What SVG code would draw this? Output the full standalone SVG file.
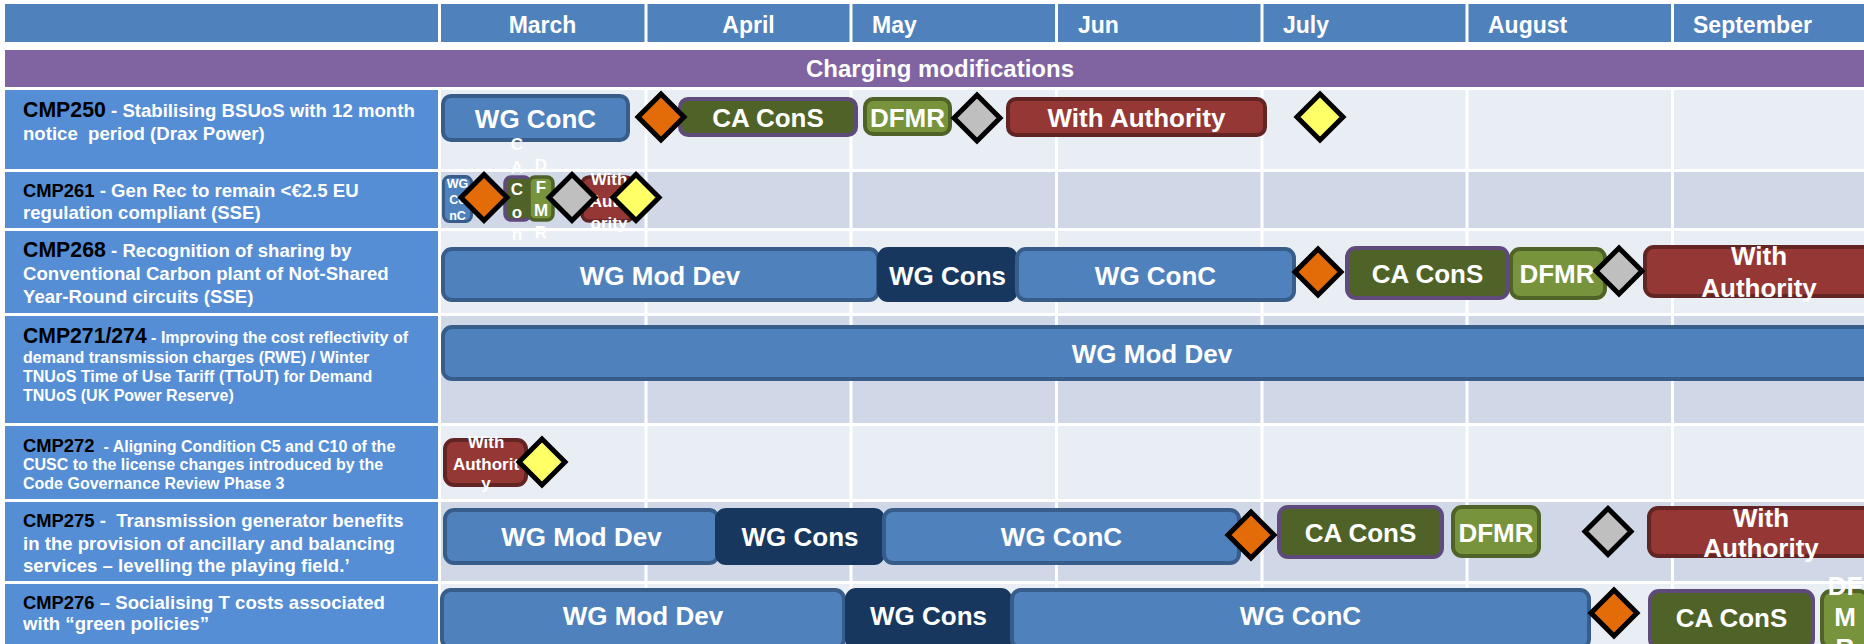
<svg xmlns="http://www.w3.org/2000/svg" xmlns:xlink="http://www.w3.org/1999/xlink" width="1864" height="644" viewBox="0 0 1864 644">
<style>
text{font-family:"Liberation Sans",Arial,Helvetica,sans-serif;font-weight:bold}
.hd{fill:#4F81BD}
.lc{fill:#558ED5}
.rl{fill:#E9EDF4}
.rd{fill:#D0D8E8}
.vl{stroke:#FFFFFF;stroke-width:3}
.mt{font-size:23px;fill:#FFFFFF}
.lt{font-size:18.6px;fill:#FFFFFF}
.ls{font-size:16px;fill:#FFFFFF}
.id{fill:#000000}
.bar{stroke-width:4}
.bl{fill:#4F81BD;stroke:#385D8A}
.nv{fill:#17375E;stroke:#17375E}
.ca{fill:#4F6228;stroke:#604A7B}
.df{fill:#77933C;stroke:#4F6228}
.wa{fill:#953735;stroke:#632523}
.bt{font-size:26px;fill:#FFFFFF;text-anchor:middle}
.st{font-size:17px;fill:#FFFFFF;text-anchor:middle}
.tt{font-size:12.5px;fill:#FFFFFF;text-anchor:middle}
.dm{stroke:#000000;stroke-width:5;stroke-linejoin:miter}
.or{fill:#E36C09}
.gy{fill:#BFBFBF}
.ye{fill:#FFFF66}
</style>
<defs>
<polygon id="dia" points="0,-23 23,0 0,23 -23,0"/>
</defs>
<rect x="0" y="0" width="1864" height="644" fill="#FFFFFF"/>

<g id="header">
<rect class="hd" x="5" y="4" width="1859" height="38"/>
<text class="mt" x="542.5" y="33" text-anchor="middle">March</text>
<text class="mt" x="748.5" y="33" text-anchor="middle">April</text>
<text class="mt" x="872" y="33">May</text>
<text class="mt" x="1078" y="33">Jun</text>
<text class="mt" x="1283" y="33">July</text>
<text class="mt" x="1488" y="33">August</text>
<text class="mt" x="1693" y="33">September</text>
</g>

<g id="section-title">
<rect x="5" y="50" width="1859" height="37" fill="#8064A2"/>
<text x="940" y="77" font-size="24" fill="#FFFFFF" text-anchor="middle">Charging modifications</text>
</g>

<g id="grid">
<rect class="lc" x="5" y="90" width="433" height="79"/>
<rect class="rl" x="441" y="90" width="1423" height="79"/>
<rect class="lc" x="5" y="172" width="433" height="56"/>
<rect class="rd" x="441" y="172" width="1423" height="56"/>
<rect class="lc" x="5" y="231" width="433" height="82"/>
<rect class="rl" x="441" y="231" width="1423" height="82"/>
<rect class="lc" x="5" y="316" width="433" height="107"/>
<rect class="rd" x="441" y="316" width="1423" height="107"/>
<rect class="lc" x="5" y="426" width="433" height="73"/>
<rect class="rl" x="441" y="426" width="1423" height="73"/>
<rect class="lc" x="5" y="502" width="433" height="79"/>
<rect class="rd" x="441" y="502" width="1423" height="79"/>
<rect class="lc" x="5" y="584" width="433" height="60"/>
<rect class="rl" x="441" y="584" width="1423" height="60"/>
<line class="vl" x1="439.5" y1="4" x2="439.5" y2="42"/>
<line class="vl" x1="646" y1="4" x2="646" y2="42"/>
<line class="vl" x1="851" y1="4" x2="851" y2="42"/>
<line class="vl" x1="1056.5" y1="4" x2="1056.5" y2="42"/>
<line class="vl" x1="1262" y1="4" x2="1262" y2="42"/>
<line class="vl" x1="1467" y1="4" x2="1467" y2="42"/>
<line class="vl" x1="1672.5" y1="4" x2="1672.5" y2="42"/>
<line class="vl" x1="439.5" y1="90" x2="439.5" y2="644"/>
<line class="vl" x1="646" y1="90" x2="646" y2="644"/>
<line class="vl" x1="851" y1="90" x2="851" y2="644"/>
<line class="vl" x1="1056.5" y1="90" x2="1056.5" y2="644"/>
<line class="vl" x1="1262" y1="90" x2="1262" y2="644"/>
<line class="vl" x1="1467" y1="90" x2="1467" y2="644"/>
<line class="vl" x1="1672.5" y1="90" x2="1672.5" y2="644"/>
</g>

<g id="CMP250">
<text class="lt" x="23" y="117"><tspan class="id" font-size="21.3">CMP250</tspan> - Stabilising BSUoS with 12 month</text>
<text class="lt" x="23" y="139.5" xml:space="preserve">notice  period (Drax Power)</text>
<g id="CMP250-wgconc"><rect class="bar bl" x="443" y="96" width="185" height="44" rx="8"/><text class="bt" x="535.5" y="128">WG ConC</text></g>
<g id="CMP250-cacons"><rect class="bar ca" x="680" y="99" width="176" height="36" rx="8"/><text class="bt" x="768" y="127">CA ConS</text></g>
<g id="CMP250-dfmr"><rect class="bar df" x="865" y="99" width="85" height="35" rx="8"/><text class="bt" x="907.5" y="126.5">DFMR</text></g>
<g id="CMP250-authority"><rect class="bar wa" x="1008" y="99" width="257" height="36" rx="8"/><text class="bt" x="1136.5" y="127">With Authority</text></g>
<use xlink:href="#dia" class="dm or" x="661" y="117"/>
<use xlink:href="#dia" class="dm gy" x="977" y="118"/>
<use xlink:href="#dia" class="dm ye" x="1320" y="117"/>
</g>

<g id="CMP261">
<text class="lt" x="23" y="196.5"><tspan class="id" font-size="18.4">CMP261</tspan> - Gen Rec to remain &lt;€2.5 EU</text>
<text class="lt" x="23" y="218.5">regulation compliant (SSE)</text>
<g id="CMP261-wgconc"><rect class="bl" stroke-width="3" x="443.5" y="176.5" width="28" height="45" rx="6"/><text class="tt" x="457.5" y="188">WG</text><text class="tt" x="457.5" y="204">Co</text><text class="tt" x="457.5" y="220">nC</text></g>
<g id="CMP261-cacons"><rect class="ca" stroke-width="3.5" x="505" y="177" width="25" height="43" rx="6"/><text class="st" x="517" y="150">C</text><text class="st" x="517" y="172.5">A</text><text class="st" x="517" y="195">C</text><text class="st" x="517" y="217.5">o</text><text class="st" x="517" y="240">n</text></g>
<g id="CMP261-dfmr"><rect class="df" stroke-width="3.5" x="529" y="177" width="24" height="43" rx="6"/><text class="st" x="541" y="170.5">D</text><text class="st" x="541" y="193">F</text><text class="st" x="541" y="215.5">M</text><text class="st" x="541" y="238">R</text></g>
<g id="CMP261-authority"><rect class="wa" stroke-width="3.5" x="582" y="177" width="51" height="44" rx="7"/><text class="st" x="609" y="185">With</text><text class="st" x="609" y="207">Auth</text><text class="st" x="609" y="229">ority</text></g>
<use xlink:href="#dia" class="dm or" x="484" y="197.5"/>
<use xlink:href="#dia" class="dm gy" x="572" y="197.5"/>
<use xlink:href="#dia" class="dm ye" x="636" y="197.5"/>
</g>

<g id="CMP268">
<text class="lt" x="23" y="257"><tspan class="id" font-size="21.3">CMP268</tspan> - Recognition of sharing by</text>
<text class="lt" x="23" y="280">Conventional Carbon plant of Not-Shared</text>
<text class="lt" x="23" y="302.5">Year-Round circuits (SSE)</text>
<g id="CMP268-wgmoddev"><rect class="bar bl" x="443" y="249" width="435" height="51" rx="9"/><text class="bt" x="660" y="284.5">WG Mod Dev</text></g>
<g id="CMP268-wgcons"><rect class="bar nv" x="879" y="249" width="137" height="51" rx="9"/><text class="bt" x="947.5" y="284.5">WG Cons</text></g>
<g id="CMP268-wgconc"><rect class="bar bl" x="1017" y="249" width="277" height="51" rx="9"/><text class="bt" x="1155.5" y="284.5">WG ConC</text></g>
<g id="CMP268-cacons"><rect class="bar ca" x="1347" y="248" width="161" height="50" rx="9"/><text class="bt" x="1427.5" y="283">CA ConS</text></g>
<g id="CMP268-dfmr"><rect class="bar df" x="1511" y="249" width="94" height="49" rx="9"/><text class="bt" x="1557" y="283">DFMR</text></g>
<g id="CMP268-authority"><rect class="bar wa" x="1645" y="247" width="230" height="49" rx="9"/><text class="bt" x="1759" y="265">With</text><text class="bt" x="1759" y="297">Authority</text></g>
<use xlink:href="#dia" class="dm or" x="1318" y="272"/>
<use xlink:href="#dia" class="dm gy" x="1619" y="271"/>
</g>

<g id="CMP271-274">
<text class="ls" x="23" y="343"><tspan class="id" font-size="21.2">CMP271/274</tspan> - Improving the cost reflectivity of</text>
<text class="ls" x="23" y="362.5">demand transmission charges (RWE) / Winter</text>
<text class="ls" x="23" y="381.5">TNUoS Time of Use Tariff (TToUT) for Demand</text>
<text class="ls" x="23" y="400.5">TNUoS (UK Power Reserve)</text>
<g id="CMP271-wgmoddev"><rect class="bar bl" x="443" y="327" width="1431" height="52" rx="9"/><text class="bt" x="1152" y="363">WG Mod Dev</text></g>
</g>

<g id="CMP272">
<text class="ls" x="23" y="451.5" xml:space="preserve"><tspan class="id" font-size="18.4">CMP272</tspan>  - Aligning Condition C5 and C10 of the</text>
<text class="ls" x="23" y="470">CUSC to the license changes introduced by the</text>
<text class="ls" x="23" y="489">Code Governance Review Phase 3</text>
<g id="CMP272-authority"><rect class="bar wa" x="445" y="440" width="81" height="45" rx="9"/><text class="st" x="486" y="448">With</text><text class="st" x="486" y="469.5">Authorit</text><text class="st" x="486" y="489">y</text></g>
<use xlink:href="#dia" class="dm ye" x="542" y="462"/>
</g>

<g id="CMP275">
<text class="lt" x="23" y="527" xml:space="preserve"><tspan class="id" font-size="18.4">CMP275</tspan> -  Transmission generator benefits</text>
<text class="lt" x="23" y="549.5">in the provision of ancillary and balancing</text>
<text class="lt" x="23" y="571.5">services – levelling the playing field.’</text>
<g id="CMP275-wgmoddev"><rect class="bar bl" x="445" y="510" width="273" height="53" rx="9"/><text class="bt" x="581.5" y="546">WG Mod Dev</text></g>
<g id="CMP275-wgcons"><rect class="bar nv" x="717" y="510" width="166" height="53" rx="9"/><text class="bt" x="800" y="546">WG Cons</text></g>
<g id="CMP275-wgconc"><rect class="bar bl" x="884" y="510" width="355" height="53" rx="9"/><text class="bt" x="1061.5" y="546">WG ConC</text></g>
<g id="CMP275-cacons"><rect class="bar ca" x="1279" y="507" width="163" height="50" rx="9"/><text class="bt" x="1360.5" y="541.5">CA ConS</text></g>
<g id="CMP275-dfmr"><rect class="bar df" x="1453" y="507" width="86" height="49" rx="9"/><text class="bt" x="1496" y="541.5">DFMR</text></g>
<g id="CMP275-authority"><rect class="bar wa" x="1649" y="508" width="226" height="48" rx="9"/><text class="bt" x="1761" y="527">With</text><text class="bt" x="1761" y="557">Authority</text></g>
<use xlink:href="#dia" class="dm or" x="1251" y="535"/>
<use xlink:href="#dia" class="dm gy" x="1608" y="531.5"/>
</g>

<g id="CMP276">
<text class="lt" x="23" y="608.5"><tspan class="id" font-size="18.4">CMP276</tspan> – Socialising T costs associated</text>
<text class="lt" x="23" y="630">with “green policies”</text>
<g id="CMP276-wgmoddev"><rect class="bar bl" x="442" y="590" width="402" height="58" rx="9"/><text class="bt" x="643" y="625">WG Mod Dev</text></g>
<g id="CMP276-wgcons"><rect class="bar nv" x="847" y="590" width="163" height="58" rx="9"/><text class="bt" x="928.5" y="625">WG Cons</text></g>
<g id="CMP276-wgconc"><rect class="bar bl" x="1012" y="590" width="577" height="58" rx="9"/><text class="bt" x="1300.5" y="625">WG ConC</text></g>
<g id="CMP276-cacons"><rect class="bar ca" x="1650" y="591" width="163" height="57" rx="9"/><text class="bt" x="1731.5" y="627">CA ConS</text></g>
<g id="CMP276-dfmr"><rect class="bar df" x="1822" y="591" width="46" height="57" rx="9"/><text class="bt" x="1845" y="595">DF</text><text class="bt" x="1845" y="626">M</text><text class="bt" x="1845" y="657">R</text></g>
<use xlink:href="#dia" class="dm or" x="1614" y="613"/>
</g>

<g id="connectors"/>
</svg>
